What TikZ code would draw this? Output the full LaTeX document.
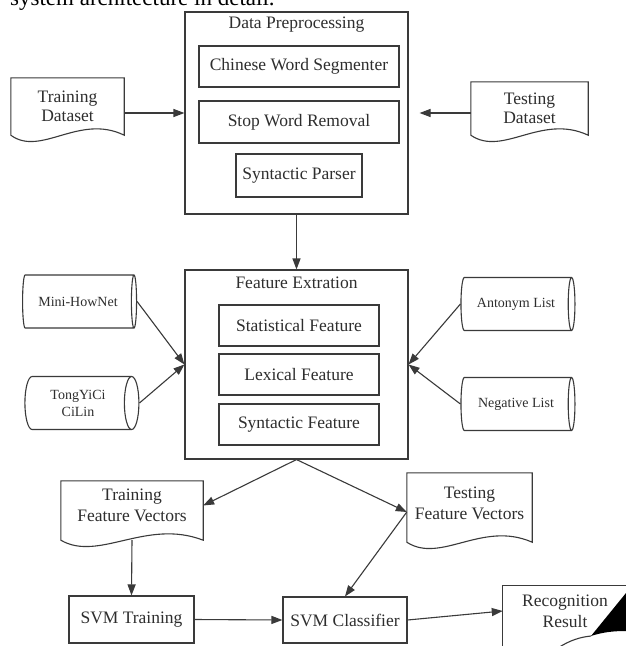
\documentclass[tikz,border=0pt]{standalone}
\usepackage{fontspec}
\setmainfont{Liberation Serif}
\usetikzlibrary{arrows.meta,shapes.geometric}
\definecolor{ln}{HTML}{3A3A3A}
\definecolor{tx}{HTML}{2E2E2E}
\newcommand\docpath[4]{%
  \draw[outl] (#1.north west) -- (#1.north east) -- ([yshift=-#2pt]#1.south east)
    .. controls +(-#3,-22) and +(#4,22) .. ([yshift=-#2pt]#1.south west) -- cycle;}
\tikzset{
  outl/.style={draw=ln, line width=1.1pt},
  mainfont/.style={text=tx, font=\fontsize{17.5}{19}\selectfont},
  box/.style={outl, rectangle, inner sep=0pt, mainfont},
  outerbox/.style={outl, rectangle, inner sep=0pt},
  txt/.style={inner sep=0pt, mainfont},
  docn/.style={rectangle, inner sep=0pt, align=center, mainfont},
  cyl/.style={outl, cylinder, shape aspect=0.55, minimum height=114pt, minimum width=53pt,
    inner sep=0pt, align=center, text=tx, font=\fontsize{14}{17}\selectfont},
  arr/.style={outl, -{Triangle[length=11pt,width=8pt]}}
}
\begin{document}
\begin{tikzpicture}[x=1pt,y=-1pt]
\useasboundingbox (0,0) rectangle (625,646);
\fill[white] (0,0) rectangle (625,646);

% cut-off caption
\node[anchor=base west, inner sep=0pt, text=black, font=\fontsize{23}{26}\selectfont] (cap) at (10,5) {system architecture in detail.};

% Data preprocessing
\node[outerbox, minimum width=223pt, minimum height=202pt] (dp) at (296.5,113) {};
\node[txt] (dpt) at (296.5,25) {Data Preprocessing};
\node[box, minimum width=200pt, minimum height=41pt] (cws) at (299,66.5) {Chinese Word Segmenter};
\node[box, minimum width=200pt, minimum height=42pt] (swr) at (299,122) {Stop Word Removal};
\node[box, minimum width=126pt, minimum height=43pt] (sp) at (299,175.5) {Syntactic Parser};

% datasets
\node[docn, minimum width=113pt, minimum height=57pt] (trd) at (67.5,106.5) {Training\\Dataset};
\docpath{trd}{0}{45}{30}
\node[docn, minimum width=117pt, minimum height=53pt] (ted) at (529.5,108.5) {Testing\\Dataset};
\docpath{ted}{0}{47}{32}

% Feature extraction
\node[outerbox, minimum width=223pt, minimum height=189pt] (fe) at (296.5,364.5) {};
\node[txt] (fet) at (296.5,283) {Feature Extration};
\node[box, minimum width=160pt, minimum height=41pt] (sf) at (299,325.5) {Statistical Feature};
\node[box, minimum width=160pt, minimum height=41pt] (lf) at (299,374.5) {Lexical Feature};
\node[box, minimum width=160pt, minimum height=41pt] (synf) at (299,424.5) {Syntactic Feature};

% resources
\node[cyl] (mh) at (78,301.5) {Mini-HowNet};
\node[cyl] (tc) at (78,403) {TongYiCi\\CiLin};
\node[cyl] (al) at (516,304) {Antonym List};
\node[cyl] (nl) at (516,404) {Negative List};

% feature vectors
\node[docn, minimum width=142pt, minimum height=49pt, font=\fontsize{17.5}{21}\selectfont] (tfv) at (132,505.5) {Training\\Feature Vectors};
\docpath{tfv}{10}{57}{38}
\node[docn, minimum width=125pt, minimum height=60pt, font=\fontsize{17.5}{21}\selectfont] (tsv) at (469.5,503) {Testing\\Feature Vectors};
\docpath{tsv}{9}{50}{34}

% SVM
\node[box, minimum width=125pt, minimum height=47pt] (svt) at (131.5,619.5) {SVM Training};
\node[box, minimum width=124pt, minimum height=46pt] (svc) at (345,620) {SVM Classifier};
\node[docn, minimum width=124pt, minimum height=50pt, font=\fontsize{17.5}{21}\selectfont] (rr) at (565,611) {Recognition\\Result};
\draw[outl] (rr.north east) -- (rr.north west) -- ([yshift=-50pt]rr.south west);
\fill[black] (626,593) -- (591,636) .. controls (603,632) and (614,631) .. (626,631) -- cycle;
\draw[outl] (558,648) .. controls (570,640) and (581,637) .. (591,636);

% connectors
\draw[arr] (trd.east |- dp.west) -- (dp.west);
\draw[arr, shorten >=11pt] (ted.west |- dp.east) -- (dp.east);
\draw[arr] (dp.south) -- (fe.north);
\draw[arr] (mh.east) -- (fe.west);
\draw[arr] (tc.east) -- (fe.west);
\draw[arr] (al.west) -- (fe.east);
\draw[arr] (nl.west) -- (fe.east);
\draw[arr] (fe.south) -- (tfv.east);
\draw[arr] (fe.south) -- ([yshift=-9pt]tsv.west);
\draw[arr] ([yshift=-9pt]tsv.west) -- (svc.north);
\draw[arr] ([yshift=-10pt]tfv.south) -- (svt.north);
\draw[arr] (svt.east) -- (svc.west);
\draw[arr] (svc.east) -- (rr.west);
\end{tikzpicture}
\end{document}
